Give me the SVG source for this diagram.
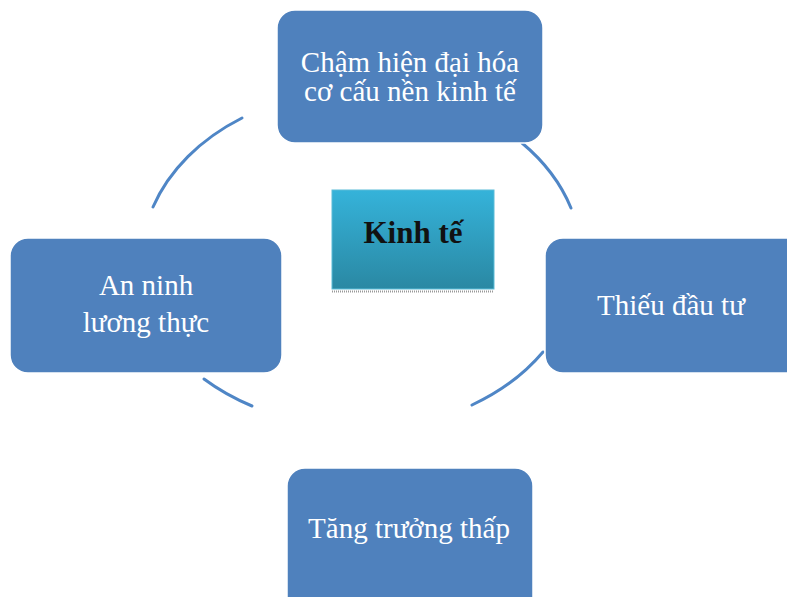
<svg xmlns="http://www.w3.org/2000/svg" width="787" height="597" viewBox="0 0 787 597">
<defs>
<linearGradient id="cg" x1="0" y1="0" x2="0" y2="1">
<stop offset="0" stop-color="#35b3da"/>
<stop offset="1" stop-color="#2a88a3"/>
</linearGradient>
</defs>
<style>
.box{fill:#4f81bd;stroke:#ffffff;stroke-width:1.5}
.lbl{font-family:"Liberation Serif","Times New Roman",serif;font-size:29px;fill:#ffffff;text-anchor:middle}
.arc{fill:none;stroke:#4f86c6;stroke-width:3;stroke-linecap:round}
</style>
<rect width="787" height="597" fill="#ffffff"/>
<g id="connectors">
<path class="arc" d="M153,207 A220,172 0 0 1 242,118"/>
<path class="arc" d="M522,143 A220,172 0 0 1 571,208"/>
<path class="arc" d="M543,352 A220,172 0 0 1 472,405"/>
<path class="arc" d="M252,406 A220,172 0 0 1 204,379"/>
</g>
<g id="center">
<rect x="332" y="190" width="162" height="99" fill="url(#cg)" stroke="#5bbcd8" stroke-width="1"/>
<line x1="332" y1="291.5" x2="494" y2="291.5" stroke="#9a9a9a" stroke-width="2" stroke-dasharray="1,1"/>
<text x="413" y="243" font-family="'Liberation Serif','Times New Roman',serif" font-size="31" font-weight="bold" fill="#111111" text-anchor="middle">Kinh tế</text>
</g>
<g id="top">
<rect class="box" x="277" y="10" width="266" height="133" rx="18"/>
<text class="lbl" x="410" y="72">Chậm hiện đại hóa</text>
<text class="lbl" x="410" y="101">cơ cấu nền kinh tế</text>
</g>
<g id="left">
<rect class="box" x="10" y="238" width="272" height="135" rx="18"/>
<text class="lbl" x="146" y="295">An ninh</text>
<text class="lbl" x="146" y="332">lương thực</text>
</g>
<g id="right">
<rect class="box" x="545" y="238" width="260" height="135" rx="18"/>
<text class="lbl" x="671" y="315">Thiếu đầu tư</text>
</g>
<g id="bottom">
<rect class="box" x="287" y="468" width="246" height="150" rx="18"/>
<text class="lbl" x="409" y="538">Tăng trưởng thấp</text>
</g>
</svg>
